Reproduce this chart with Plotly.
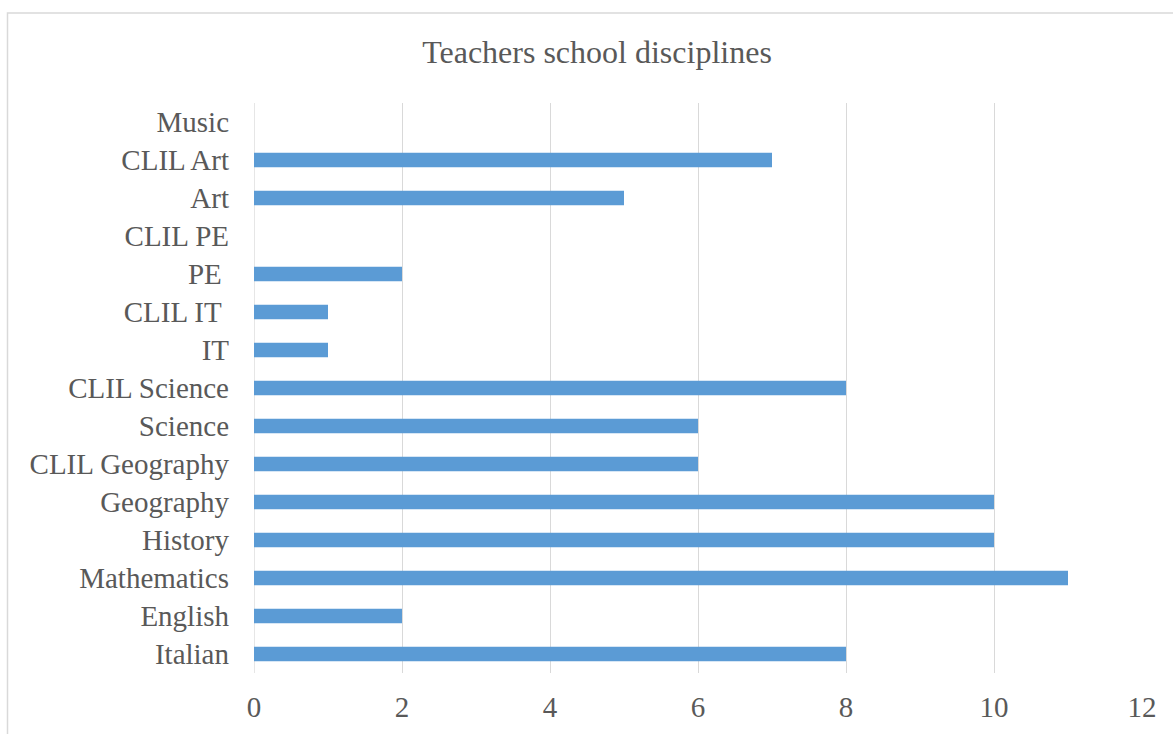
import plotly.graph_objects as go

# Disciplines listed bottom-to-top as they appear on the y axis
disciplines = [
    "Italian", "English", "Mathematics", "History", "Geography",
    "CLIL Geography", "Science", "CLIL Science", "IT", "CLIL IT\u00a0",
    "PE\u00a0", "CLIL PE", "Art", "CLIL Art", "Music",
]
teachers = [8, 2, 11, 10, 10, 6, 6, 8, 1, 1, 2, 0, 5, 7, 0]

x_ticks = [0, 2, 4, 6, 8, 10, 12]

font_family = "Liberation Serif, Times New Roman, serif"
text_color = "#595959"
grid_color = "#D9D9D9"

fig = go.Figure(
    go.Bar(
        x=teachers,
        y=disciplines,
        orientation="h",
        marker=dict(color="#5B9BD5", line=dict(width=0)),
        hoverinfo="x+y",
    )
)

# Plot area in pixels: x 254..1142, y 103..673
L, R, T, B = 254, 31, 103, 61
W, H = 1173, 734
pw, ph = W - L - R, H - T - B

def px_to_paper_x(px):
    return (px - L) / pw

def px_to_paper_y(py):
    return 1 - (py - T) / ph

fig.update_layout(
    width=W,
    height=H,
    margin=dict(l=L, r=R, t=T, b=B),
    paper_bgcolor="white",
    plot_bgcolor="white",
    bargap=0.62,
    showlegend=False,
    font=dict(family=font_family, color=text_color, size=29),
    title=dict(
        text="Teachers school disciplines",
        x=597 / W,
        xanchor="center",
        xref="container",
        y=1 - 52 / H,
        yanchor="middle",
        yref="container",
        font=dict(family=font_family, color=text_color, size=32),
    ),
    xaxis=dict(
        range=[0, 12],
        tickvals=x_ticks,
        ticktext=[str(v) for v in x_ticks],
        showgrid=True,
        gridcolor=grid_color,
        gridwidth=1.3,
        zeroline=False,
        showline=False,
        ticks="",
        ticklabelstandoff=14,
        automargin=False,
        tickfont=dict(size=29, color=text_color, family=font_family),
        fixedrange=True,
    ),
    yaxis=dict(
        categoryorder="array",
        categoryarray=disciplines,
        showgrid=False,
        zeroline=False,
        showline=False,
        ticks="",
        ticklabelstandoff=24,
        automargin=False,
        tickfont=dict(size=29, color=text_color, family=font_family),
        fixedrange=True,
    ),
    shapes=[
        # chart frame
        dict(
            type="rect",
            xref="paper", yref="paper",
            x0=px_to_paper_x(7.5), x1=px_to_paper_x(1185),
            y0=px_to_paper_y(745), y1=px_to_paper_y(13),
            line=dict(color="#D9D9D9", width=1.5),
            fillcolor="rgba(0,0,0,0)",
            layer="below",
        ),
        # vertical axis line at x = 0
        dict(
            type="line",
            xref="x", yref="paper",
            x0=0, x1=0, y0=0, y1=1,
            line=dict(color=grid_color, width=1.3),
            layer="below",
        ),
    ],
)

fig.write_html("out.html")
